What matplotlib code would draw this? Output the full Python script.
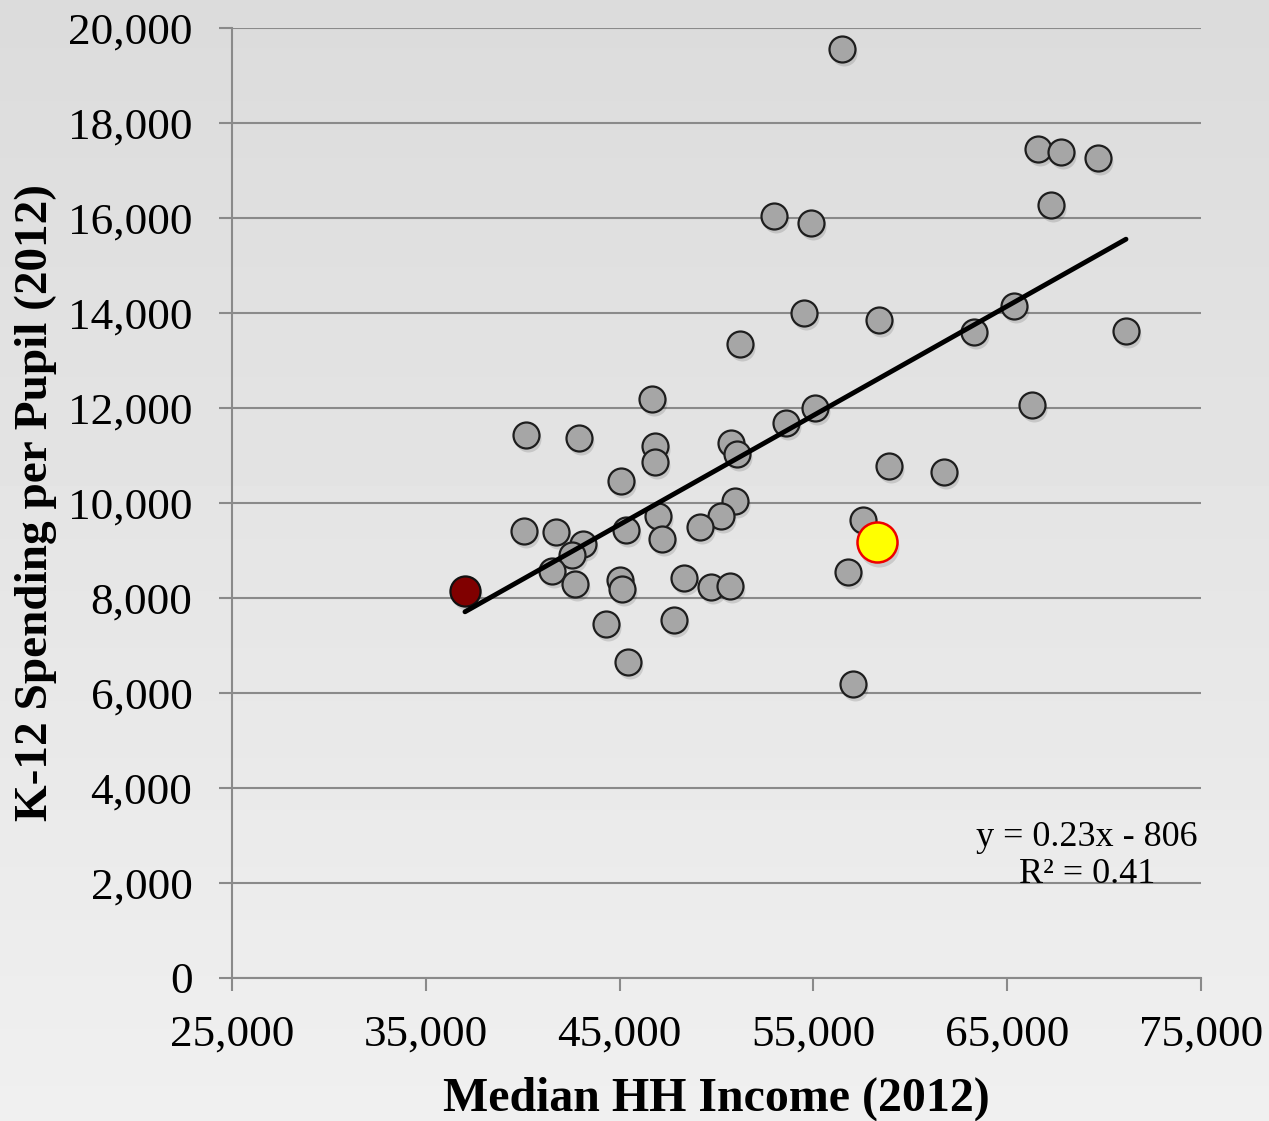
import numpy as np
import matplotlib.pyplot as plt
from matplotlib.transforms import offset_copy

# median household income (x) and K-12 spending per pupil (y), 2012
income = [56476, 66589, 67776, 69685, 67260, 52967, 54876, 65351, 54515, 58385,
          63287, 71130, 51213, 46672, 55083, 53586, 66280, 40170, 42905, 46827,
          46827, 50748, 51058, 58901, 61739, 45072, 50955, 50232, 46981, 57560,
          40067, 41718, 45330, 49149, 47188, 43111, 42544, 41512, 42699, 45021,
          45124, 48323, 49716, 50697, 56785, 44298, 47807, 45433, 57043]
spending = [19558, 17453, 17389, 17263, 16274, 16042, 15895, 14147, 14000, 13853,
            13600, 13621, 13347, 12189, 12000, 11684, 12063, 11432, 11368, 11200,
            10863, 11263, 11032, 10779, 10653, 10463, 10042, 9726, 9726, 9642,
            9411, 9389, 9432, 9495, 9242, 9137, 8905, 8568, 8295, 8379,
            8189, 8421, 8232, 8253, 8547, 7453, 7537, 6653, 6189]

low_income = (37023, 8147)     # dark red point
highlight = (58282, 9170)      # yellow point

slope, intercept = 0.23, -806
eq_text = "y = 0.23x - 806\nR² = 0.41"

xticks = [25000, 35000, 45000, 55000, 65000, 75000]
yticks = list(range(0, 20001, 2000))

plt.rcParams['font.family'] = ['Liberation Serif', 'DejaVu Serif']

fig = plt.figure(figsize=(12.69, 11.21), dpi=100)

# light gray gradient background
bg = fig.add_axes([0, 0, 1, 1], zorder=-10)
grad = np.linspace(0.86, 0.94, 256).reshape(-1, 1)
bg.imshow(grad, aspect='auto', cmap='gray', vmin=0, vmax=1, extent=[0, 1, 0, 1])
bg.axis('off')

ax = fig.add_axes([0.1828, 0.1276, 0.7636, 0.8474])
ax.patch.set_alpha(0)

grid_col = '#8a8a8a'
ax.set_xlim(25000, 75000)
ax.set_ylim(0, 20000)
ax.set_xticks(xticks)
ax.set_yticks(yticks)
ax.set_xticklabels([f"{v:,}" for v in xticks], fontsize=32.5)
ax.set_yticklabels([f"{v:,}" for v in yticks], fontsize=32.5)
ax.tick_params(axis='both', direction='out', length=9.5, width=1.5, color=grid_col)
ax.tick_params(axis='y', pad=19)
ax.tick_params(axis='x', pad=17)
ax.yaxis.grid(True, color=grid_col, linewidth=1.5)
ax.set_axisbelow(True)
for side in ['top', 'right']:
    ax.spines[side].set_visible(False)
for side in ['left', 'bottom']:
    ax.spines[side].set_color(grid_col)
    ax.spines[side].set_linewidth(1.5)

ax.set_xlabel("Median HH Income (2012)", fontsize=34.5, fontweight='bold', labelpad=16)
ax.set_ylabel("K-12 Spending per Pupil (2012)", fontsize=34, fontweight='bold', labelpad=8)

# soft drop shadows under markers
shadow = offset_copy(ax.transData, fig=fig, x=1.5, y=-3, units='points')
ax.scatter(income, spending, s=350, color='#000000', alpha=0.12, linewidths=0, transform=shadow, zorder=2)
ax.scatter([low_income[0]], [low_income[1]], s=470, color='#000000', alpha=0.12, linewidths=0, transform=shadow, zorder=2)
ax.scatter([highlight[0]], [highlight[1]], s=830, color='#000000', alpha=0.12, linewidths=0, transform=shadow, zorder=2)

ax.scatter(income, spending, s=350, facecolor='#a6a6a6', edgecolor='#1e1e1e', linewidths=1.6, zorder=3)
ax.scatter([low_income[0]], [low_income[1]], s=470, facecolor='#800000', edgecolor='#111111', linewidths=1.6, zorder=3)

# trend line across the data range
all_x = income + [low_income[0], highlight[0]]
lx = np.array([min(all_x), max(all_x)])
ax.plot(lx, slope * lx + intercept, color='black', linewidth=3.5, solid_capstyle='round', zorder=4)

ax.scatter([highlight[0]], [highlight[1]], s=830, facecolor='#ffff00', edgecolor='#ee0000', linewidths=1.8, zorder=5)

ax.text(0.882, 0.128, eq_text, transform=ax.transAxes, fontsize=26, ha='center', va='center',
        linespacing=1.15, zorder=6)

fig.savefig("out.png", dpi=100)
